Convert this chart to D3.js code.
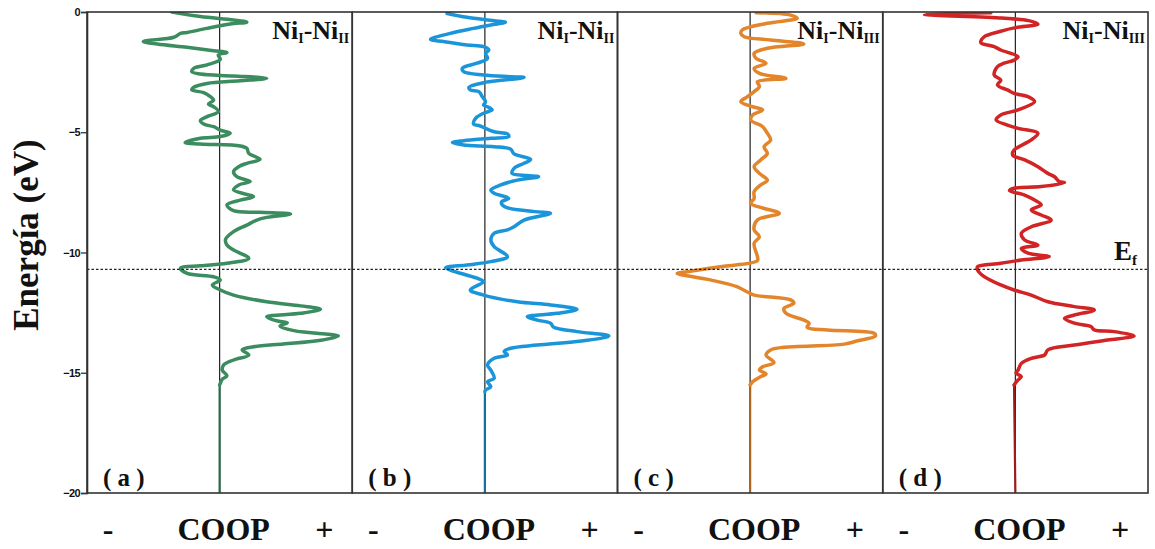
<!DOCTYPE html>
<html>
<head>
<meta charset="utf-8">
<script src="https://cdn.jsdelivr.net/npm/d3@7"></script>
<style>
  body { margin: 0; background: #fff; }
  svg { display: block; }
</style>
</head>
<body>
<svg id="chart" width="1155" height="549"></svg>
<script>
// energy (eV), COOP (arb. units)
const coopA = [[0,-0.72],[-0.19,-0.29],[-0.33,0.21],[-0.42,0.41],[-0.50,0.16],[-0.68,-0.19],[-0.85,-0.49],[-0.89,-0.59],[-1.05,-0.69],[-1.19,-1.10],[-1.23,-1.15],[-1.33,-0.94],[-1.47,-0.49],[-1.61,-0.09],[-1.69,0.11],[-1.79,-0.02],[-1.97,0.01],[-2.20,-0.19],[-2.34,-0.39],[-2.48,-0.42],[-2.58,-0.29],[-2.66,0.21],[-2.76,0.71],[-2.86,0.31],[-2.97,-0.19],[-3.13,-0.39],[-3.24,-0.42],[-3.35,-0.24],[-3.52,-0.14],[-3.66,-0.09],[-3.83,-0.17],[-3.94,-0.09],[-4.14,-0.02],[-4.35,-0.19],[-4.52,-0.29],[-4.66,-0.24],[-4.77,-0.09],[-4.91,0.01],[-5.04,0.16],[-5.18,0.01],[-5.25,-0.29],[-5.43,-0.52],[-5.49,-0.29],[-5.57,0.31],[-5.67,0.41],[-5.88,0.44],[-6.13,0.61],[-6.29,0.41],[-6.43,0.29],[-6.64,0.21],[-6.85,0.26],[-7.05,0.46],[-7.19,0.29],[-7.40,0.21],[-7.68,0.51],[-7.82,0.31],[-8.02,0.11],[-8.26,0.21],[-8.33,0.60],[-8.40,1.07],[-8.54,0.71],[-8.65,0.56],[-8.86,0.41],[-9.13,0.21],[-9.45,0.09],[-9.69,0.11],[-9.90,0.21],[-10.24,0.44],[-10.45,0.11],[-10.55,-0.29],[-10.65,-0.59],[-10.87,-0.49],[-11.01,-0.09],[-11.14,0.01],[-11.35,-0.11],[-11.56,0.01],[-11.77,0.21],[-12.05,0.71],[-12.22,1.22],[-12.36,1.52],[-12.53,1.22],[-12.67,0.71],[-12.84,0.86],[-12.92,1.02],[-13.06,0.91],[-13.25,1.12],[-13.36,1.47],[-13.47,1.79],[-13.67,1.47],[-13.80,0.96],[-13.92,0.51],[-14.05,0.34],[-14.26,0.44],[-14.47,0.21],[-14.68,0.06],[-14.89,0.04],[-15.13,0.11],[-15.27,0.04],[-15.44,0.01],[-15.51,0],[-20,0]];

const coopB = [[-0.06,-0.57],[-0.22,-0.27],[-0.36,0.14],[-0.43,0.31],[-0.54,0.09],[-0.68,-0.17],[-0.89,-0.52],[-1.14,-0.82],[-1.23,-0.62],[-1.37,-0.27],[-1.44,-0.02],[-1.58,0.06],[-1.72,0.01],[-1.93,0.04],[-2.13,-0.12],[-2.34,-0.34],[-2.48,-0.32],[-2.62,-0.02],[-2.69,0.39],[-2.72,0.59],[-2.83,0.29],[-2.94,-0.02],[-3.13,-0.24],[-3.24,-0.22],[-3.31,-0.09],[-3.52,-0.04],[-3.73,0.01],[-3.87,-0.02],[-3.94,0.04],[-4.07,0.11],[-4.21,-0.02],[-4.42,-0.14],[-4.66,-0.17],[-4.74,-0.07],[-4.98,0.14],[-5.07,0.34],[-5.18,0.36],[-5.25,0.09],[-5.35,-0.32],[-5.43,-0.49],[-5.53,-0.32],[-5.60,0.14],[-5.71,0.39],[-5.90,0.44],[-6.13,0.69],[-6.29,0.59],[-6.50,0.44],[-6.71,0.41],[-6.80,0.64],[-6.85,0.81],[-6.99,0.49],[-7.19,0.24],[-7.40,0.09],[-7.54,0.14],[-7.75,0.36],[-7.90,0.25],[-8.10,0.30],[-8.30,0.75],[-8.37,0.99],[-8.65,0.59],[-8.93,0.44],[-9.06,0.34],[-9.20,0.14],[-9.48,0.09],[-9.76,0.14],[-10.17,0.34],[-10.38,0.09],[-10.52,-0.27],[-10.63,-0.59],[-10.73,-0.52],[-11.07,-0.12],[-11.21,-0.02],[-11.56,-0.22],[-11.77,-0.02],[-12.05,0.49],[-12.18,0.99],[-12.36,1.39],[-12.53,1.09],[-12.67,0.64],[-12.81,0.79],[-12.94,0.99],[-13.11,1.04],[-13.29,1.39],[-13.47,1.87],[-13.67,1.49],[-13.85,0.79],[-13.98,0.39],[-14.12,0.29],[-14.26,0.34],[-14.40,0.14],[-14.68,0.04],[-14.89,0.09],[-15.23,0.14],[-15.37,0.04],[-15.58,0.09],[-15.72,0.01],[-15.79,0],[-20,0]];

const coopC = [[-0.03,0.09],[-0.13,0.61],[-0.26,0.71],[-0.47,0.26],[-0.75,-0.12],[-0.89,-0.14],[-1.03,-0.09],[-1.16,0.31],[-1.33,0.81],[-1.51,0.26],[-1.72,0.06],[-1.93,0.09],[-2.13,0.24],[-2.34,0.06],[-2.55,0.14],[-2.76,0.54],[-2.90,0.11],[-3.10,0.14],[-3.31,0.06],[-3.52,-0.04],[-3.73,-0.14],[-3.94,0.04],[-4.07,0.19],[-4.28,0.04],[-4.49,0.01],[-4.77,0.19],[-5.04,0.26],[-5.32,0.31],[-5.60,0.21],[-5.88,0.26],[-6.15,0.16],[-6.43,0.06],[-6.71,0.14],[-6.99,0.26],[-7.19,0.16],[-7.47,0.06],[-7.75,0.06],[-7.96,0.01],[-8.16,0.20],[-8.37,0.44],[-8.65,0.11],[-9.06,0.06],[-9.34,0.14],[-9.62,0.06],[-10.17,0.11],[-10.34,0.11],[-10.59,-0.45],[-10.80,-0.95],[-10.87,-1.10],[-11.14,-0.60],[-11.42,-0.20],[-11.63,-0.05],[-11.77,0.06],[-11.97,0.61],[-12.11,0.66],[-12.32,0.51],[-12.53,0.54],[-12.81,0.81],[-12.94,0.89],[-13.11,0.86],[-13.22,1.17],[-13.36,1.87],[-13.47,1.89],[-13.67,1.62],[-13.81,1.42],[-13.94,0.51],[-14.05,0.31],[-14.26,0.24],[-14.58,0.36],[-14.75,0.19],[-14.89,0.14],[-15.05,0.24],[-15.16,0.16],[-15.37,0.04],[-15.51,0],[-20,0]];

const coopD = [[-0.03,-0.37],[-0.10,-1.37],[-0.25,-0.20],[-0.36,0.20],[-0.50,0.34],[-0.65,0.00],[-0.80,-0.22],[-1.03,-0.47],[-1.28,-0.52],[-1.44,-0.32],[-1.58,-0.22],[-1.86,0.04],[-2.00,-0.02],[-2.13,-0.17],[-2.27,-0.27],[-2.62,-0.32],[-2.83,-0.22],[-3.04,-0.27],[-3.24,-0.12],[-3.38,-0.02],[-3.52,0.19],[-3.73,0.29],[-4.07,0.04],[-4.28,-0.22],[-4.49,-0.29],[-4.70,-0.12],[-4.84,0.04],[-5.04,0.34],[-5.32,0.24],[-5.74,-0.02],[-5.95,-0.04],[-6.15,0.14],[-6.43,0.34],[-6.71,0.49],[-6.85,0.59],[-7.05,0.66],[-7.10,0.74],[-7.26,0.39],[-7.33,-0.02],[-7.43,-0.09],[-7.61,0.14],[-7.82,0.29],[-8.02,0.39],[-8.23,0.24],[-8.44,0.39],[-8.65,0.54],[-8.93,0.24],[-9.20,0.09],[-9.48,0.14],[-9.69,0.34],[-9.83,0.09],[-10.03,0.19],[-10.17,0.51],[-10.31,0.09],[-10.45,-0.22],[-10.59,-0.57],[-10.73,-0.57],[-11.00,-0.47],[-11.35,-0.22],[-11.56,-0.02],[-11.77,0.24],[-12.05,0.49],[-12.25,0.89],[-12.39,1.19],[-12.60,0.89],[-12.74,0.74],[-12.94,0.89],[-13.08,1.14],[-13.22,1.19],[-13.29,1.49],[-13.47,1.79],[-13.64,1.39],[-13.85,0.89],[-14.05,0.49],[-14.26,0.44],[-14.40,0.24],[-14.61,0.09],[-14.89,0.04],[-15.02,0.01],[-15.16,0.09],[-15.30,0.04],[-15.51,-0.02],[-20,0]];

const panelLetters = ["a", "b", "c", "d"];
const pairLabels = [["I", "II"], ["I", "II"], ["I", "III"], ["I", "III"]];
const colours = ["#3b8c5e", "#1b95d9", "#e3862b", "#d22424"];
const series = [coopA, coopB, coopC, coopD];
const yTicks = [0, -5, -10, -15, -20];
const fermi = -10.7;

const serif = "'Liberation Serif', 'Times New Roman', serif";

const svg = d3.select("#chart");
const plotLeft = 87, plotRight = 1148, plotTop = 12, plotBottom = 493;
const pw = (plotRight - plotLeft) / 4;

const y = d3.scaleLinear().domain([0, -20]).range([plotTop, plotBottom]);

function label(sel, size) {
    return sel.style("font-family", serif)
        .style("font-weight", "bold")
        .style("font-size", size + "px")
        .attr("fill", "#111");
}

svg.append("clipPath").attr("id", "clip")
    .append("rect").attr("x", plotLeft).attr("y", plotTop)
    .attr("width", plotRight - plotLeft).attr("height", plotBottom - plotTop);

series.forEach(function (data, i) {
    const x0 = plotLeft + i * pw;
    const x = d3.scaleLinear().domain([-2, 2]).range([x0, x0 + pw]);
    const g = svg.append("g");

    // zero COOP line
    g.append("line")
        .attr("x1", x(0)).attr("x2", x(0))
        .attr("y1", plotTop).attr("y2", plotBottom)
        .attr("stroke", "#222").attr("stroke-width", 1.2);

    const line = d3.line()
        .x(d => x(d[1]))
        .y(d => y(d[0]))
        .curve(d3.curveCatmullRom.alpha(0.5));

    // flat tail below the bands is drawn thinner and darker
    g.append("path")
        .datum(data.slice(-2))
        .attr("d", line)
        .attr("fill", "none")
        .attr("stroke", d3.color(colours[i]).darker(0.8))
        .attr("stroke-width", 2.2);

    g.append("path")
        .datum(data.slice(0, -1))
        .attr("clip-path", "url(#clip)")
        .attr("d", line)
        .attr("fill", "none")
        .attr("stroke", colours[i])
        .attr("stroke-width", 3.5)
        .attr("stroke-linejoin", "round")
        .attr("stroke-linecap", "round");

    g.append("rect")
        .attr("x", x0).attr("y", plotTop)
        .attr("width", pw).attr("height", plotBottom - plotTop)
        .attr("fill", "none").attr("stroke", "#333").attr("stroke-width", 1.6);

    // Ni_I-Ni_x label
    const lab = label(g.append("text"), 26)
        .attr("x", x0 + pw - 3).attr("y", 39)
        .attr("text-anchor", "end");
    lab.append("tspan").text("Ni");
    lab.append("tspan").attr("dy", 4).style("font-size", "14px").text(pairLabels[i][0]);
    lab.append("tspan").attr("dy", -4).text("-Ni");
    lab.append("tspan").attr("dy", 4).style("font-size", "14px").text(pairLabels[i][1]);

    label(g.append("text"), 25)
        .attr("x", x0 + 16).attr("y", 486)
        .text("( " + panelLetters[i] + " )");

    // bottom COOP labels
    label(g.append("text"), 32).attr("x", x0 + 21).attr("y", 540)
        .attr("text-anchor", "middle").text("-");
    label(g.append("text"), 32).attr("x", x(0) + 4).attr("y", 540)
        .attr("text-anchor", "middle").text("COOP");
    label(g.append("text"), 32).attr("x", x0 + pw - 28).attr("y", 540)
        .attr("text-anchor", "middle").text("+");
});

// Fermi level
svg.append("line")
    .attr("x1", plotLeft).attr("x2", plotRight)
    .attr("y1", y(fermi)).attr("y2", y(fermi))
    .attr("stroke", "#222").attr("stroke-width", 1.3)
    .attr("stroke-dasharray", "2.5,2");

const ef = label(svg.append("text"), 27).attr("x", 1114).attr("y", 260);
ef.append("tspan").text("E");
ef.append("tspan").attr("dy", 5).style("font-size", "15px").text("f");

// y axis
const yAxis = svg.append("g")
    .attr("transform", "translate(" + plotLeft + ",0)")
    .call(d3.axisLeft(y).tickValues(yTicks).tickSize(6).tickPadding(1).tickFormat(d3.format("d")));
yAxis.select(".domain").attr("stroke", "#333").attr("stroke-width", 1.6);
yAxis.selectAll(".tick line").attr("stroke", "#333").attr("stroke-width", 1.3);
yAxis.selectAll(".tick text")
    .style("font-family", "'Liberation Sans Narrow', 'Liberation Sans', sans-serif")
    .style("font-weight", "bold")
    .style("font-size", "11px")
    .style("letter-spacing", "-0.6px")
    .attr("fill", "#111");

label(svg.append("text"), 35)
    .attr("transform", "translate(38,235) rotate(-90)")
    .attr("text-anchor", "middle")
    .text("Energía (eV)");
</script>
</body>
</html>
